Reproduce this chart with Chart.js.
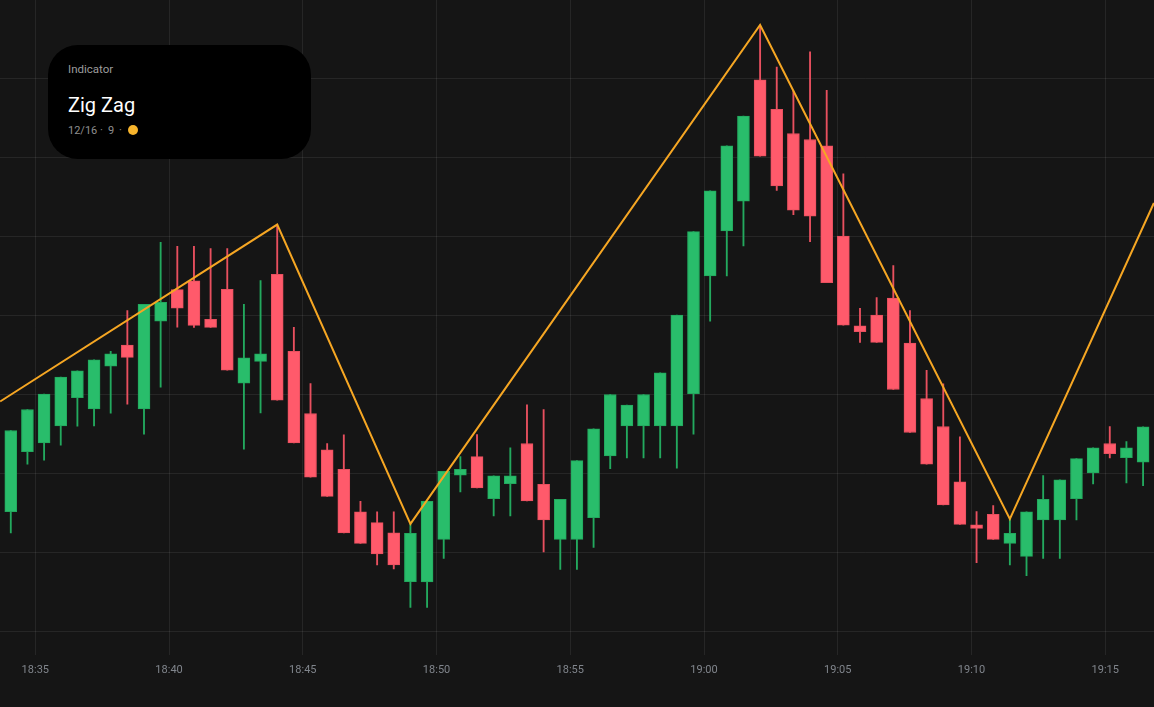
<!DOCTYPE html>
<html>
<head>
<meta charset="utf-8">
<title>Zig Zag</title>
<script src="https://cdn.jsdelivr.net/npm/chart.js@4.4.0/dist/chart.umd.min.js"></script>
<style>
  html, body { margin: 0; padding: 0; background: #151515; }
  #wrap { position: relative; width: 1154px; height: 707px; overflow: hidden; }
  canvas { display: block; }
  .card {
    position: absolute; left: 48px; top: 45px; width: 263px; height: 114px;
    background: #000; border-radius: 30px; font-family: Roboto, sans-serif;
  }
  .card span { position: absolute; white-space: nowrap; }
  .kind { left: 20px; top: 18.6px; font-size: 11.5px; line-height: 11.5px; color: #9c9c9c; }
  .name { left: 20px; top: 50px; font-size: 20px; line-height: 20px; color: #fff; }
  .meta { top: 80px; font-size: 11px; line-height: 11px; color: #8f8f8f; }
  .dot { left: 80px; top: 80px; width: 10px; height: 10px; border-radius: 50%; background: #f7b42c; }
</style>
</head>
<body>
<div id="wrap">
  <canvas id="chart" width="1154" height="707"></canvas>
  <div class="card">
    <span class="kind">Indicator</span>
    <span class="name">Zig Zag</span>
    <span class="meta" style="left:20px">12/16</span>
    <span class="meta" style="left:52px">·</span>
    <span class="meta" style="left:60px">9</span>
    <span class="meta" style="left:71px">·</span>
    <span class="dot"></span>
  </div>
</div>
<script>
// time axis labels (minutes shown on the chart)
const TICK_LABELS = ["18:35", "18:40", "18:45", "18:50", "18:55", "19:00", "19:05", "19:10", "19:15"];

// candles, one every ~37s, first one at 18:34:05
const CANDLE_START = 245; // seconds after 18:30
const CANDLE_STEP = 37.35;

const OPEN = [51.5, 57.5, 58.37, 60.07, 62.87, 61.77, 66.03, 68.13, 61.77, 70.53,
  73.67, 74.55, 70.7, 73.7, 64.33, 66.5, 75.2, 67.5, 61.3, 57.67,
  55.73, 51.47, 50.4, 49.37, 44.5, 44.47, 48.73, 55.13, 57.0, 52.8,
  54.3, 58.3, 54.23, 48.73, 48.73, 50.9, 57.07, 60.07, 60.07, 60.07,
  60.07, 63.27, 75.03, 79.53, 82.5, 94.63, 91.67, 89.27, 88.67, 88.03,
  79.03, 70.05, 71.13, 72.83, 68.33, 62.8, 60.0, 54.47, 50.17, 51.23,
  48.33, 47.03, 50.67, 50.67, 52.8, 55.37, 58.3, 56.9, 56.43];
const HIGH = [59.6, 61.7, 63.23, 64.93, 65.57, 66.67, 67.5, 71.57, 72.2, 78.4,
  78.0, 78.0, 77.77, 77.77, 72.2, 74.57, 80.17, 69.9, 64.3, 58.3,
  59.17, 52.53, 51.47, 51.47, 50.27, 52.53, 55.53, 57.0, 59.2, 55.07,
  57.87, 62.17, 61.7, 52.73, 56.6, 59.77, 63.2, 62.13, 63.2, 65.37,
  71.13, 79.47, 83.53, 88.03, 91.0, 100.1, 95.9, 93.5, 97.43, 93.57,
  85.23, 71.8, 72.87, 76.07, 71.57, 65.6, 64.27, 58.97, 51.5, 52.1,
  50.77, 51.47, 55.1, 54.67, 56.8, 57.87, 60.0, 58.5, 59.97];
const LOW = [49.37, 56.23, 56.63, 58.13, 60.03, 60.07, 61.33, 62.23, 59.23, 63.93,
  69.93, 69.9, 69.9, 65.63, 57.73, 61.37, 62.63, 58.37, 54.93, 53.03,
  49.37, 48.33, 46.17, 45.77, 41.93, 41.93, 46.83, 53.47, 53.87, 51.07,
  51.07, 52.57, 47.47, 45.73, 45.73, 47.93, 55.8, 56.87, 56.87, 56.87,
  55.83, 59.23, 70.53, 75.03, 78.03, 87.0, 83.57, 81.17, 78.47, 74.37,
  70.13, 68.4, 68.4, 63.7, 59.4, 56.23, 52.17, 50.23, 46.4, 48.73,
  46.17, 45.1, 46.83, 46.83, 50.67, 54.27, 56.87, 54.37, 54.1];
const CLOSE = [59.6, 61.7, 63.23, 64.93, 65.57, 66.67, 67.27, 66.9, 72.2, 72.4,
  71.83, 70.1, 69.9, 65.63, 66.87, 67.27, 62.63, 58.37, 54.93, 53.03,
  49.37, 48.33, 47.27, 46.17, 49.33, 52.53, 55.53, 55.73, 53.87, 55.07,
  55.07, 52.57, 50.67, 52.73, 56.6, 59.77, 63.2, 62.13, 63.2, 65.37,
  71.13, 79.47, 83.53, 88.03, 91.0, 87.0, 84.03, 81.6, 81.0, 74.37,
  70.13, 69.48, 68.4, 63.7, 59.4, 56.23, 52.17, 50.23, 49.83, 48.73,
  49.33, 51.47, 52.73, 54.67, 56.8, 57.87, 57.3, 57.87, 59.97];

// zig zag pivots: candle index and price (first and last run past the edges)
const ZIGZAG_AT = [-0.64, 16, 24, 45, 60, 68.65];
const ZIGZAG_PRICE = [62.5, 80.17, 50.27, 100.1, 50.77, 82.33];

const UP = "#29bd6b";
const DOWN = "#ff5a6b";
const UP_EDGE = "#23a95e";
const DOWN_EDGE = "#e8505f";

const timeOf = (i) => CANDLE_START + i * CANDLE_STEP;
const labelToSec = (s) => {
  const [h, m] = s.split(":").map(Number);
  return (h * 60 + m - (18 * 60 + 30)) * 60;
};
const secToLabel = (v) => {
  const total = 18 * 60 + 30 + Math.round(v / 60);
  return Math.floor(total / 60) + ":" + String(total % 60).padStart(2, "0");
};

const isUp = OPEN.map((o, i) => CLOSE[i] >= o);

const bodies = OPEN.map((o, i) => ({ x: timeOf(i), y: [o, CLOSE[i]] }));
const wicks = OPEN.map((o, i) => ({ x: timeOf(i), y: [LOW[i], HIGH[i]] }));
const zigzag = ZIGZAG_AT.map((at, i) => ({ x: timeOf(at), y: ZIGZAG_PRICE[i] }));

const gridColor = "rgba(255,255,255,0.075)";

new Chart(document.getElementById("chart"), {
  type: "bar",
  data: {
    datasets: [
      {
        type: "line",
        data: zigzag,
        borderColor: "#f5a623",
        borderWidth: 2,
        pointRadius: 0,
        tension: 0,
        order: 0,
      },
      {
        data: bodies,
        backgroundColor: isUp.map((u) => (u ? UP : DOWN)),
        borderColor: isUp.map((u) => (u ? UP_EDGE : DOWN_EDGE)),
        borderWidth: 1,
        borderSkipped: false,
        barThickness: 12,
        grouped: false,
        order: 1,
      },
      {
        data: wicks,
        backgroundColor: isUp.map((u) => (u ? UP_EDGE : DOWN_EDGE)),
        borderWidth: 0,
        barThickness: 1.2,
        grouped: false,
        order: 2,
      },
    ],
  },
  options: {
    responsive: false,
    animation: false,
    devicePixelRatio: 1,
    layout: { padding: { left: 0, right: 0, top: 0, bottom: 21 } },
    plugins: { legend: { display: false }, tooltip: { enabled: false } },
    scales: {
      x: {
        type: "linear",
        min: 220.8,
        max: 2809.3,
        offset: false,
        afterBuildTicks: (scale) => {
          scale.ticks = TICK_LABELS.map((l) => ({ value: labelToSec(l) }));
        },
        ticks: {
          color: "#80858c",
          font: { family: "Roboto", size: 11 },
          padding: 9,
          maxRotation: 0,
          callback: (v) => secToLabel(v),
        },
        grid: { color: gridColor, drawTicks: false, offset: false },
        border: { display: false },
      },
      y: {
        min: 37.2,
        max: 102.6,
        ticks: { display: false, stepSize: 7.9, includeBounds: false },
        grid: { color: gridColor, drawTicks: false },
        border: { display: false },
      },
    },
  },
});
</script>
</body>
</html>
